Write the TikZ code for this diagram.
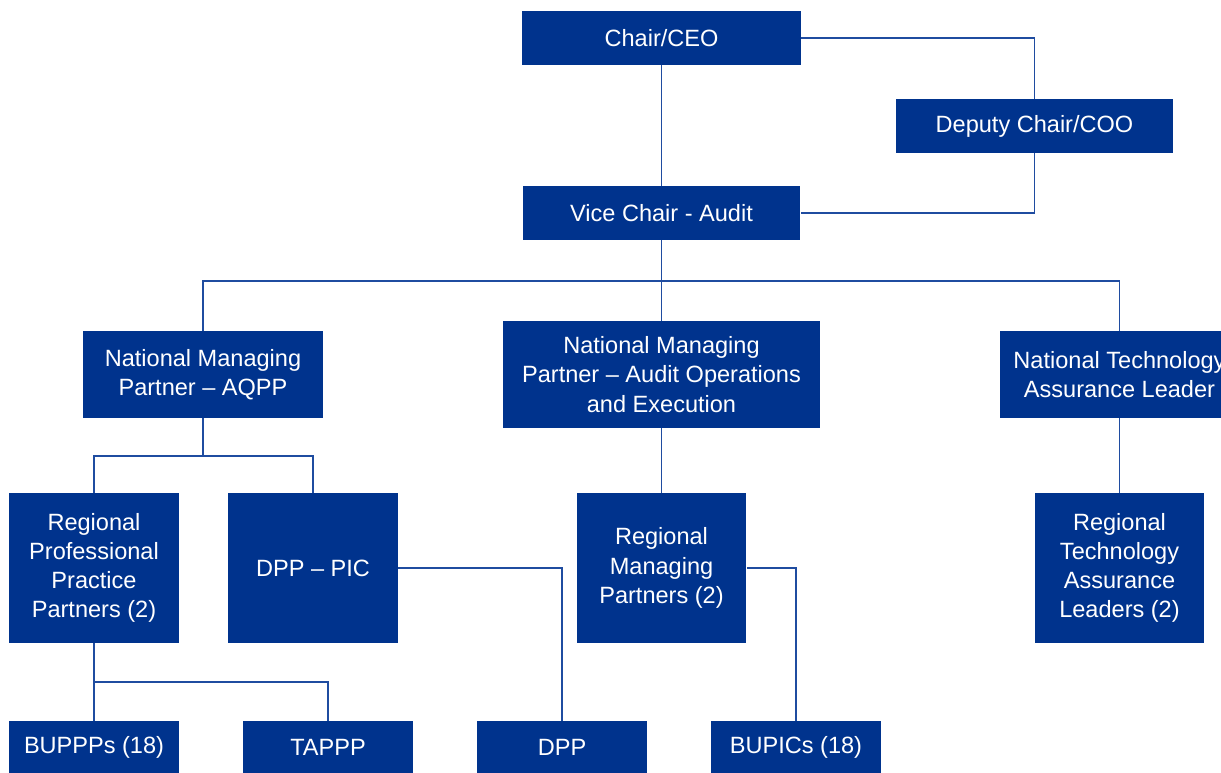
\documentclass[tikz,border=0pt]{standalone}
\usepackage{fontspec}
\setmainfont{Liberation Sans}
\definecolor{kblue}{HTML}{00338D}
\definecolor{klink}{HTML}{1F4CA0}
\begin{document}
\begin{tikzpicture}[x=0.02cm,y=-0.02cm,
  box/.style={fill=kblue,text=white,inner sep=0pt,align=center,
    font=\fontsize{13.4}{16.6}\selectfont},
  link/.style={draw=klink,line width=0.85pt}]
\useasboundingbox (0,0) rectangle (1221,773);
\clip (0,0) rectangle (1221,773);
\node[box,minimum width=5.58cm,minimum height=1.08cm] (ceo) at (661.5,38) {Chair/CEO};
\node[box,minimum width=5.54cm,minimum height=1.08cm] (dep) at (1034.5,126) {Deputy Chair/COO};
\node[box,minimum width=5.56cm,minimum height=1.08cm] (vca) at (661.5,213) {Vice Chair - Audit};
\node[box,minimum width=4.8cm,minimum height=1.74cm] (aqpp) at (203,374.5) {National Managing\\Partner -- AQPP};
\node[box,minimum width=6.36cm,minimum height=2.14cm] (aoe) at (661.5,374.5) {National Managing\\Partner -- Audit Operations\\and Execution};
\node[box,minimum width=4.8cm,minimum height=1.74cm] (ntal) at (1119.5,374.5) {National Technology\\Assurance Leader};
\node[box,minimum width=3.4cm,minimum height=3.0cm] (rppp) at (94,568) {Regional\\Professional\\Practice\\Partners (2)};
\node[box,minimum width=3.4cm,minimum height=3.0cm] (pic) at (313,568) {DPP -- PIC};
\node[box,minimum width=3.4cm,minimum height=3.0cm] (rmp) at (661.5,568) {Regional\\Managing\\Partners (2)};
\node[box,minimum width=3.4cm,minimum height=3.0cm] (rtal) at (1119.5,568) {Regional\\Technology\\Assurance\\Leaders (2)};
\node[box,minimum width=3.4cm,minimum height=1.04cm] (buppp) at (94,747) {BUPPPs (18)};
\node[box,minimum width=3.4cm,minimum height=1.04cm] (tappp) at (328,747) {TAPPP};
\node[box,minimum width=3.4cm,minimum height=1.04cm] (dpp) at (562,747) {DPP};
\node[box,minimum width=3.4cm,minimum height=1.04cm] (bupic) at (796,747) {BUPICs (18)};
\coordinate (b1) at (0,281);
\coordinate (b2) at (0,456);
\coordinate (b3) at (0,682);
\draw[link] (ceo.south) -- (vca.north);
\draw[link] (ceo.east) -| (dep.north);
\draw[link] (dep.south) |- (vca.east);
\draw[link] (vca.south) -- (aoe.north);
\draw[link] (aqpp.north) -- (aqpp.north |- b1) -- (ntal.north |- b1) -- (ntal.north);
\draw[link] (aqpp.south) -- (aqpp.south |- b2);
\draw[link] (rppp.north) -- (rppp.north |- b2) -- (pic.north |- b2) -- (pic.north);
\draw[link] (rppp.south) -- (buppp.north);
\draw[link] (rppp.south |- b3) -| (tappp.north);
\draw[link] (pic.east) -| (dpp.north);
\draw[link] (aoe.south) -- (rmp.north);
\draw[link] (rmp.east) -| (bupic.north);
\draw[link] (ntal.south) -- (rtal.north);
\end{tikzpicture}
\end{document}
